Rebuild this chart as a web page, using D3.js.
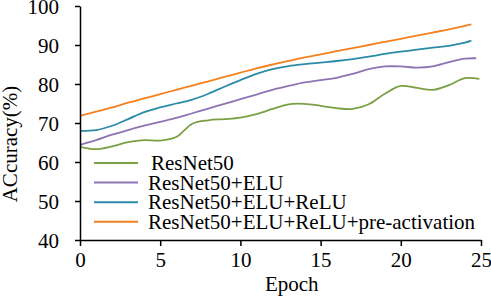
<!DOCTYPE html>
<html lang="en">
<head>
<meta charset="UTF-8">
<title>Accuracy vs Epoch</title>
<script src="https://d3js.org/d3.v7.min.js"></script>
<style>
    body { margin: 0; padding: 0; background: #fff; }
    svg { display: block; }
    svg text { font-family: "Liberation Serif", "Times New Roman", serif; fill: #000; }
</style>
</head>
<body>
<svg id="chart" width="491" height="301"></svg>
<script>
    // data
    const epochs = [0, 1, 2, 3, 4, 5, 6, 7, 8, 9, 10, 11, 12, 13, 14, 15, 16, 17, 18, 19, 20, 21, 22, 23, 24];
    const seriesNames = ["ResNet50", "ResNet50+ELU", "ResNet50+ELU+ReLU", "ResNet50+ELU+ReLU+pre-activation"];
    const lastEpoch = [24.9, 24.7, 24.4, 24.4];

    const resnet50 = [63.9, 63.3, 64.0, 65.1, 65.6, 65.5, 66.4, 69.8, 70.7, 71.0, 71.4, 72.3, 73.6, 74.8, 74.9, 74.4, 73.8, 73.6, 74.8, 77.5, 79.5, 79.0, 78.5, 79.7, 81.5, 81.3];
    const resnetElu = [64.4, 65.6, 67.0, 68.2, 69.3, 70.3, 71.3, 72.5, 73.7, 74.9, 76.1, 77.3, 78.5, 79.5, 80.4, 81.0, 81.6, 82.6, 83.8, 84.5, 84.5, 84.2, 84.5, 85.6, 86.5, 86.6];
    const resnetEluRelu = [68.0, 68.2, 69.3, 71.0, 72.8, 74.0, 75.0, 76.0, 77.5, 79.3, 81.0, 82.6, 83.8, 84.6, 85.1, 85.5, 85.9, 86.4, 87.0, 87.7, 88.3, 88.8, 89.3, 89.8, 90.6, 91.1];
    const resnetPreAct = [71.8, 72.9, 74.0, 75.2, 76.3, 77.4, 78.5, 79.6, 80.7, 81.8, 82.9, 84.0, 85.0, 85.9, 86.8, 87.6, 88.4, 89.2, 90.0, 90.8, 91.6, 92.4, 93.2, 94.0, 94.9, 95.3];

    const xTicks = [0, 5, 10, 15, 20, 25];
    const yTicks = [40, 50, 60, 70, 80, 90, 100];

    const colors = ["#7ba043", "#8f74b3", "#2c8aa9", "#f5801f"];
    const allValues = [resnet50, resnetElu, resnetEluRelu, resnetPreAct];

    const svg = d3.select("#chart");
    const serif = "'Liberation Serif', 'Times New Roman', serif";

    const x = d3.scaleLinear().domain([0, 25]).range([80, 481]);
    const y = d3.scaleLinear().domain([40, 100]).range([240, 6]);

    // lines
    const line = d3.line()
        .x(d => x(d[0]))
        .y(d => y(d[1]))
        .curve(d3.curveCatmullRom.alpha(0.5));

    allValues.forEach(function (vals, i) {
        const pts = vals.map((v, j) => [j < epochs.length ? epochs[j] : lastEpoch[i], v]);
        svg.append("path")
            .datum(pts)
            .attr("fill", "none")
            .attr("stroke", colors[i])
            .attr("stroke-width", 1.8)
            .attr("d", line);
    });

    // axes
    const xAxis = svg.append("g")
        .attr("transform", `translate(0,${y(40)})`)
        .call(d3.axisBottom(x).tickValues(xTicks).tickSize(6).tickSizeOuter(0).tickPadding(6));
    const yAxis = svg.append("g")
        .attr("transform", `translate(${x(0)},0)`)
        .call(d3.axisLeft(y).tickValues(yTicks).tickSize(5).tickSizeOuter(0).tickPadding(16));

    [xAxis, yAxis].forEach(function (g) {
        g.attr("font-family", serif).attr("font-size", 21);
        g.select(".domain").attr("stroke", "#000").attr("stroke-width", 1.5);
        g.selectAll(".tick line").attr("stroke", "#000").attr("stroke-width", 1.5);
        g.selectAll(".tick text").attr("fill", "#000");
    });
    yAxis.selectAll(".tick text").attr("dy", "0.36em");

    // axis titles
    svg.append("text")
        .attr("x", x(13.2))
        .attr("y", 291)
        .attr("text-anchor", "middle")
        .attr("font-family", serif)
        .attr("font-size", 21)
        .text("Epoch");

    svg.append("text")
        .attr("transform", "translate(17,144) rotate(-90)")
        .attr("text-anchor", "middle")
        .attr("font-family", serif)
        .attr("font-size", 21)
        .text("ACcuracy(%)");

    // legend
    const legend = svg.append("g").attr("transform", "translate(94,163)");
    seriesNames.forEach(function (name, i) {
        const row = legend.append("g").attr("transform", `translate(0,${i * 19.6})`);
        row.append("line")
            .attr("x1", 0).attr("x2", 44)
            .attr("stroke", colors[i])
            .attr("stroke-width", 2);
        row.append("text")
            .attr("x", i === 0 ? 57 : 54)
            .attr("y", 7)
            .attr("font-family", serif)
            .attr("font-size", 21)
            .text(name);
    });
</script>
</body>
</html>
